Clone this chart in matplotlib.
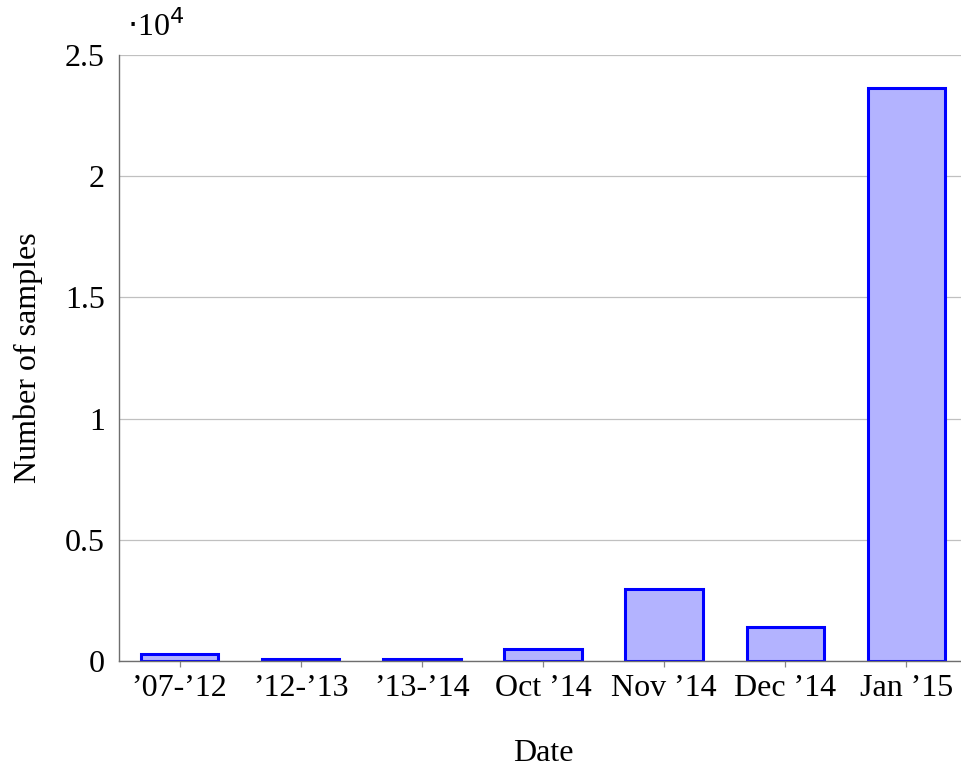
import matplotlib.pyplot as plt
import numpy as np

# data
categories = ["\u201907-\u201912", "\u201912-\u201913", "\u201913-\u201914",
              "Oct \u201914", "Nov \u201914", "Dec \u201914", "Jan \u201915"]
samples = [270, 100, 80, 480, 2980, 1390, 23620]
y_ticks = [0, 0.5, 1, 1.5, 2, 2.5]
y_tick_labels = ["0", "0.5", "1", "1.5", "2", "2.5"]

plt.rcParams['font.family'] = ['Liberation Serif', 'DejaVu Serif']
plt.rcParams['font.size'] = 23

fig = plt.figure(figsize=(9.61, 7.71), dpi=100)
ax = fig.add_axes([119 / 961, 110 / 771, 848 / 961, 606 / 771])

x = np.arange(len(categories))
vals = np.array(samples) / 1e4
ax.bar(x, vals, width=0.64, color='#b3b3ff', edgecolor='#0000ff',
       linewidth=2.2, zorder=3)

ax.set_xlim(-0.5, len(categories) - 0.5)
ax.set_ylim(0, 2.5)
ax.set_yticks(y_ticks)
ax.set_yticklabels(y_tick_labels)
ax.set_xticks(x)
ax.set_xticklabels(categories)

ax.yaxis.grid(True, color='#c0c0c0', linewidth=0.9, zorder=0)
for s in ['top', 'right']:
    ax.spines[s].set_visible(False)
for s in ['left', 'bottom']:
    ax.spines[s].set_color('#6e6e6e')
    ax.spines[s].set_linewidth(1.0)
    ax.spines[s].set_zorder(4)

ax.tick_params(axis='y', length=0, pad=10)
ax.tick_params(axis='x', length=4.5, width=0.9, color='#888888', pad=5)

ax.set_xlabel('Date', labelpad=26)
ax.set_ylabel('Number of samples', labelpad=16)

ax.text(0.01, 1.02, r'$\cdot$10$^4$', transform=ax.transAxes,
        ha='left', va='bottom')

fig.savefig('out.png', dpi=100)
